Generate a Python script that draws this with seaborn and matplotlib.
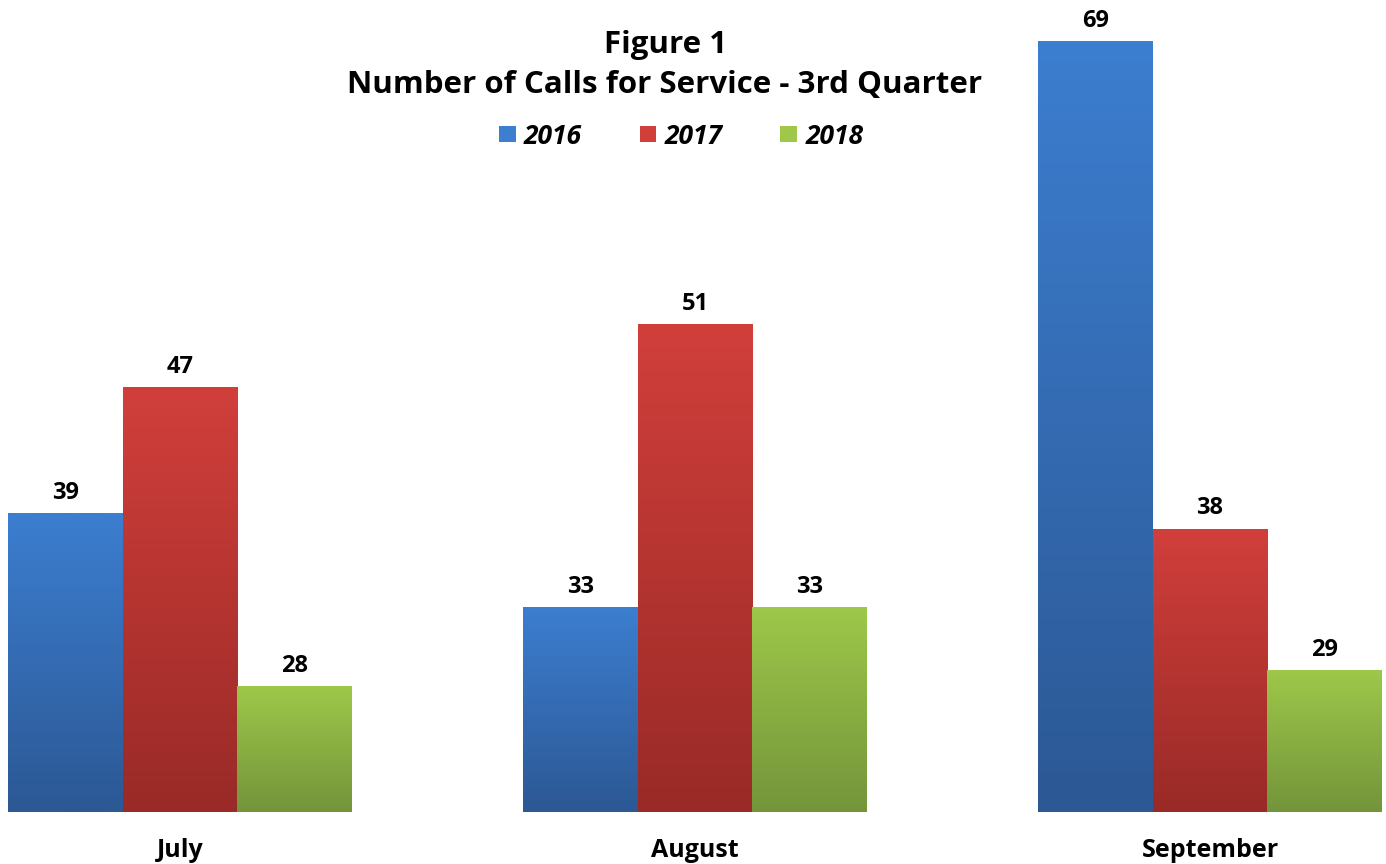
import numpy as np
import pandas as pd
import seaborn as sns
import matplotlib.pyplot as plt
from matplotlib.colors import LinearSegmentedColormap
from matplotlib.patches import Patch

months = ["July", "August", "September"]
years = ["2016", "2017", "2018"]
calls_2016 = [39, 33, 69]
calls_2017 = [47, 51, 38]
calls_2018 = [28, 33, 29]

# top / bottom colours of the gradient for each year
top_colors = ["#3C7ED0", "#D13F3B", "#9DC84A"]
bottom_colors = ["#2C5894", "#992A27", "#74943A"]

df = pd.DataFrame({
    "Month": months * 3,
    "Year": [y for y in years for _ in months],
    "Calls": calls_2016 + calls_2017 + calls_2018,
})

sns.set_theme(style="white")
plt.rcParams["font.family"] = ["Open Sans", "DejaVu Sans"]
plt.rcParams["text.color"] = "black"
plt.rcParams["xtick.color"] = "black"

fig = plt.figure(figsize=(13.86, 8.64), dpi=100)
ax = fig.add_axes([0, 52 / 864, 1, 812 / 864])

sns.barplot(data=df, x="Month", y="Calls", hue="Year", order=months,
            hue_order=years, palette=top_colors, width=0.668,
            legend=False, ax=ax, saturation=1, edgecolor="none")

ax.set_xlim(-180 / 515, -180 / 515 + 1386 / 515)
ax.set_ylim(20, 71.6)

ymin = ax.get_ylim()[0]
for i, container in enumerate(ax.containers):
    cmap = LinearSegmentedColormap.from_list(
        f"g{i}", [bottom_colors[i], top_colors[i]])
    for bar in container:
        x0, w, h = bar.get_x(), bar.get_width(), bar.get_height()
        grad = np.linspace(0, 1, 256).reshape(-1, 1)
        im = ax.imshow(grad, cmap=cmap, origin="lower", aspect="auto",
                       extent=[x0, x0 + w, ymin, h], zorder=bar.get_zorder())
        im.set_clip_path(bar)
        bar.set_facecolor("none")
    ax.bar_label(container, padding=6, fontsize=17, fontweight="bold",
                 color="black")

ax.set_xlim(-180 / 515, -180 / 515 + 1386 / 515)
ax.set_ylim(20, 71.6)

ax.set_xlabel("")
ax.set_ylabel("")
ax.set_yticks([])
ax.tick_params(axis="x", length=0, pad=19, labelsize=18)
for lbl in ax.get_xticklabels():
    lbl.set_fontweight("bold")
sns.despine(ax=ax, left=True, bottom=True)

fig.text(665 / 1386, 1 - 45 / 864, "Figure 1", ha="center", va="center",
         fontsize=22.5, fontweight="bold")
fig.text(665 / 1386, 1 - 85 / 864, "Number of Calls for Service - 3rd Quarter",
         ha="center", va="center", fontsize=22.5, fontweight="bold")

handles = [Patch(facecolor=c, edgecolor="none") for c in top_colors]
leg = fig.legend(handles, years, loc="center", ncol=3,
                 bbox_to_anchor=(681 / 1386, 1 - 136 / 864), frameon=False,
                 handlelength=0.64, handleheight=0.57, columnspacing=2.2,
                 handletextpad=0.3,
                 prop={"size": 19, "weight": "bold", "style": "italic"})

fig.savefig("out.png", dpi=100)
